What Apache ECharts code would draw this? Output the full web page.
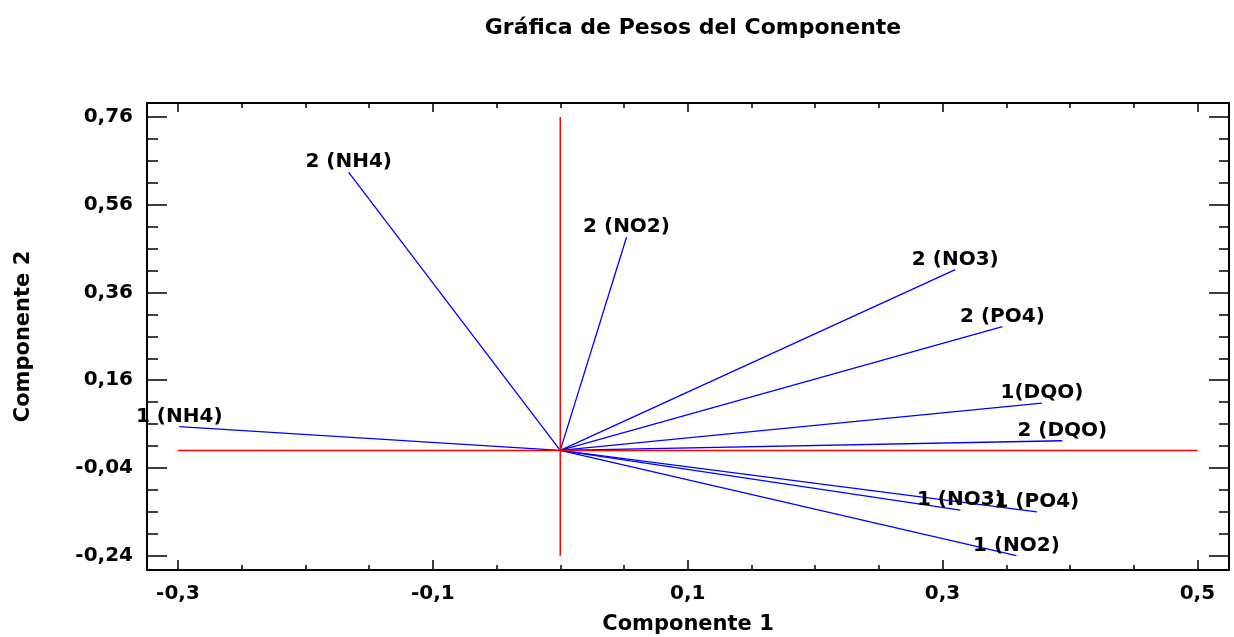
<!DOCTYPE html>
<html>
<head>
<meta charset="utf-8">
<title>Gráfica de Pesos del Componente</title>
<script src="https://cdn.jsdelivr.net/npm/echarts@6/dist/echarts.min.js"></script>
<style>
  html, body { margin: 0; padding: 0; background: #ffffff; }
  #chart { width: 1234px; height: 637px; }
</style>
</head>
<body>
<div id="chart"></div>
<script>
// Component weights (loadings) of each variable on components 1 and 2
const variables = ['1 (NH4)', '2 (NH4)', '2 (NO2)', '2 (NO3)', '2 (PO4)', '1(DQO)', '2 (DQO)', '1 (NO3)', '1 (PO4)', '1 (NO2)'];
const component1 = [-0.299, -0.166, 0.052, 0.310, 0.347, 0.378, 0.394, 0.314, 0.374, 0.358];
const component2 = [0.054, 0.634, 0.486, 0.412, 0.282, 0.108, 0.022, -0.136, -0.140, -0.240];

// Reference cross through the origin
const crossX = [-0.3, 0.5];
const crossY = [-0.24, 0.76];

// Axis ticks
const xMajorTicks = [-0.3, -0.1, 0.1, 0.3, 0.5];
const yMajorTicks = [-0.24, -0.04, 0.16, 0.36, 0.56, 0.76];
const xMinorStep = 0.05;
const yMinorStep = 0.05;

const X_MIN = -0.3243, X_MAX = 0.5248;
const Y_MIN = -0.2726, Y_MAX = 0.7919;

function stepList(from, to, step) {
  const out = [];
  const n = Math.round((to - from) / step);
  for (let i = 0; i <= n; i++) out.push(+(from + i * step).toFixed(4));
  return out;
}
const xMinorTicks = stepList(xMajorTicks[0], xMajorTicks[xMajorTicks.length - 1], xMinorStep);
const yMinorTicks = stepList(yMajorTicks[0], yMajorTicks[yMajorTicks.length - 1], yMinorStep);

const FONT = 'DejaVu Sans';
const tickStyle = { color: '#000', width: 1.5 };

function xAxisDef(position, ticks, len, withLabels, withLine) {
  return {
    type: 'value', position: position, min: X_MIN, max: X_MAX,
    splitLine: { show: false },
    axisLine: { show: withLine, onZero: false, lineStyle: { color: '#000', width: 2 } },
    axisTick: { show: true, inside: true, length: len, customValues: ticks, lineStyle: tickStyle },
    axisLabel: withLabels ? {
      show: true, customValues: ticks, margin: 14,
      color: '#000', fontFamily: FONT, fontWeight: 'bold', fontSize: 20,
      formatter: v => v.toFixed(1).replace('.', ',')
    } : { show: false },
    name: withLabels ? 'Componente 1' : '',
    nameLocation: 'middle', nameGap: 44,
    nameTextStyle: { color: '#000', fontFamily: FONT, fontWeight: 'bold', fontSize: 21 }
  };
}

function yAxisDef(position, ticks, len, withLabels, withLine) {
  return {
    type: 'value', position: position, min: Y_MIN, max: Y_MAX,
    splitLine: { show: false },
    axisLine: { show: withLine, onZero: false, lineStyle: { color: '#000', width: 2 } },
    axisTick: { show: true, inside: true, length: len, customValues: ticks, lineStyle: tickStyle },
    axisLabel: withLabels ? {
      show: true, customValues: ticks, margin: 14,
      color: '#000', fontFamily: FONT, fontWeight: 'bold', fontSize: 20,
      formatter: v => v.toFixed(2).replace('.', ',')
    } : { show: false },
    name: withLabels ? 'Componente 2' : '',
    nameLocation: 'middle', nameGap: 113,
    nameTextStyle: { color: '#000', fontFamily: FONT, fontWeight: 'bold', fontSize: 21 }
  };
}

// One blue vector per variable, from the origin to its weights
const vectorSeries = variables.map((name, i) => ({
  type: 'line', name: name,
  data: [[0, 0], [component1[i], component2[i]]],
  symbol: 'none', silent: true, animation: false,
  lineStyle: { color: '#0000ff', width: 1.3 }
}));

const crossSeries = [
  {
    type: 'line', data: [[crossX[0], 0], [crossX[1], 0]],
    symbol: 'none', silent: true, animation: false,
    lineStyle: { color: '#ff0000', width: 1.5 }
  },
  {
    type: 'line', data: [[0, crossY[0]], [0, crossY[1]]],
    symbol: 'none', silent: true, animation: false,
    lineStyle: { color: '#ff0000', width: 1.5 }
  }
];

// Variable names at the tip of each vector
const labelSeries = {
  type: 'scatter', silent: true, animation: false,
  symbolSize: 0,
  itemStyle: { opacity: 1 },
  data: variables.map((name, i) => [component1[i], component2[i], name]),
  label: {
    show: true, position: 'top', distance: 0,
    color: '#000', fontFamily: FONT, fontWeight: 'bold', fontSize: 20,
    formatter: p => p.value[2]
  },
  labelLayout: { hideOverlap: false },
  z: 5
};

const chart = echarts.init(document.getElementById('chart'), null, { renderer: 'canvas' });
chart.setOption({
  backgroundColor: '#ffffff',
  animation: false,
  title: {
    text: 'Gráfica de Pesos del Componente',
    left: 688, top: 12, textAlign: 'center',
    textStyle: { color: '#000', fontFamily: FONT, fontWeight: 'bold', fontSize: 22 }
  },
  grid: { left: 147, right: 5, top: 103, bottom: 67, containLabel: false, outerBoundsMode: 'none' },
  xAxis: [
    xAxisDef('bottom', xMajorTicks, 10, true, true),
    xAxisDef('bottom', xMinorTicks, 5, false, false),
    xAxisDef('top', xMajorTicks, 9, false, true),
    xAxisDef('top', xMinorTicks, 5, false, false)
  ],
  yAxis: [
    yAxisDef('left', yMajorTicks, 20, true, true),
    yAxisDef('left', yMinorTicks, 11, false, false),
    yAxisDef('right', yMajorTicks, 20, false, true),
    yAxisDef('right', yMinorTicks, 10, false, false)
  ],
  series: [...vectorSeries, ...crossSeries, labelSeries]
});
</script>
</body>
</html>
